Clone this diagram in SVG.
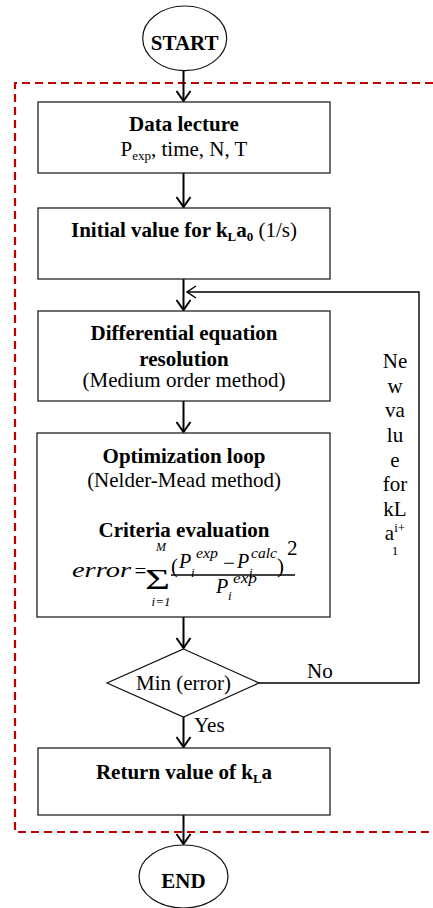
<svg xmlns="http://www.w3.org/2000/svg" width="433" height="908" viewBox="0 0 433 908">
<style>
.box{fill:#fff;stroke:#222;stroke-width:1.3}
.term{fill:#fff;stroke:#111;stroke-width:1.2}
.b{font-family:"Liberation Serif","Times New Roman",serif;font-weight:bold;font-size:21px;fill:#000}
.r{font-family:"Liberation Serif","Times New Roman",serif;font-size:21px;fill:#000}
.m{font-family:"Liberation Serif","Times New Roman",serif;font-style:italic;fill:#000}
.c{stroke:#000;stroke-width:2;fill:none}
.ct{stroke:#000;stroke-width:1.4;fill:none}
.frame{stroke:#C00000;stroke-width:2.2;stroke-dasharray:8 5;fill:none}
</style>
<defs>
<marker id="arr" markerUnits="userSpaceOnUse" viewBox="0 0 12 16" markerWidth="12" markerHeight="16" refX="11" refY="8" orient="auto">
<path d="M1,1 L11,8 L1,15" fill="none" stroke="#000" stroke-width="2"/>
</marker>
<marker id="arrt" markerUnits="userSpaceOnUse" viewBox="0 0 12 14" markerWidth="12" markerHeight="14" refX="11" refY="7" orient="auto">
<path d="M2,1 L11,7 L2,13" fill="none" stroke="#000" stroke-width="1.5"/>
</marker>
</defs>
<rect width="433" height="908" fill="#fff"/>
<path class="frame" d="M433 83 H15 V832 H433"/>
<g id="connectors">
<path class="c" d="M183.5 70.5 V101" marker-end="url(#arr)"/>
<path class="c" d="M183.5 173 V207" marker-end="url(#arr)"/>
<path class="c" d="M183.5 279 V310" marker-end="url(#arr)"/>
<path class="c" d="M183.5 401 V432" marker-end="url(#arr)"/>
<path class="c" d="M183.5 617 V648" marker-end="url(#arr)"/>
<path class="c" d="M183.5 717 V747" marker-end="url(#arr)"/>
<path class="c" d="M183.5 815 V844" marker-end="url(#arr)"/>
<path class="ct" d="M259 683 H419 V292 H187" marker-end="url(#arrt)"/>
<text class="r" x="307" y="678">No</text>
<text class="r" x="194" y="732">Yes</text>
<g class="r" text-anchor="middle">
<text x="395" y="368">Ne</text>
<text x="395" y="393">w</text>
<text x="395" y="417">va</text>
<text x="395" y="442">lu</text>
<text x="395" y="467">e</text>
<text x="395" y="491">for</text>
<text x="395" y="516">kL</text>
<text x="395" y="540">a<tspan font-size="13" dy="-8">i+</tspan></text>
<text x="395" y="555" font-size="13">1</text>
</g>
</g>
<g id="start">
<ellipse class="term" cx="184.7" cy="38.3" rx="42" ry="32.3"/>
<text class="b" x="184.7" y="50" text-anchor="middle">START</text>
</g>
<g id="data">
<rect class="box" x="38" y="102" width="292" height="71"/>
<text class="b" x="184" y="131" text-anchor="middle">Data lecture</text>
<text class="r" x="184" y="156" text-anchor="middle">P<tspan font-size="13" dy="4">exp</tspan><tspan dy="-4">, time, N, T</tspan></text>
</g>
<g id="initial">
<rect class="box" x="38" y="208" width="292" height="71"/>
<text class="b" x="184" y="237" text-anchor="middle">Initial value for k<tspan font-size="13" dy="4">L</tspan><tspan dy="-4">a</tspan><tspan font-size="13" dy="4">0</tspan><tspan class="r" font-weight="normal" dy="-4"> (1/s)</tspan></text>
</g>
<g id="diffeq">
<rect class="box" x="38" y="311" width="292" height="90"/>
<text class="b" x="184" y="340" text-anchor="middle">Differential equation</text>
<text class="b" x="184" y="366" text-anchor="middle">resolution</text>
<text class="r" x="184" y="387" text-anchor="middle">(Medium order method)</text>
</g>
<g id="optim">
<rect class="box" x="37" y="433" width="293" height="184"/>
<text class="b" x="184" y="463" text-anchor="middle">Optimization loop</text>
<text class="r" x="184" y="487" text-anchor="middle">(Nelder-Mead method)</text>
<text class="b" x="184" y="537" text-anchor="middle">Criteria evaluation</text>
<text class="m" x="72" y="577" font-size="21" textLength="59" lengthAdjust="spacingAndGlyphs">error</text>
<text class="r" x="134.5" y="578" font-size="20">=</text>
<text class="r" transform="translate(145,589) scale(1,1.45)" x="0" y="0" font-size="36" textLength="25" lengthAdjust="spacingAndGlyphs">Σ</text>
<text class="m" x="161" y="551" font-size="12" text-anchor="middle">M</text>
<text class="m" x="161" y="606" font-size="13" text-anchor="middle">i=1</text>
<text class="r" x="171" y="573" font-size="26">(</text>
<text class="m" x="179" y="568" font-size="20">P</text>
<text class="m" x="191" y="577" font-size="13">i</text>
<text class="m" x="196" y="558" font-size="14" textLength="22" lengthAdjust="spacingAndGlyphs">exp</text>
<text class="r" x="223" y="570" font-size="20">−</text>
<text class="m" x="237" y="568" font-size="20">P</text>
<text class="m" x="249" y="577" font-size="13">i</text>
<text class="m" x="251" y="558" font-size="14" textLength="26" lengthAdjust="spacingAndGlyphs">calc</text>
<text class="r" x="277" y="573" font-size="26">)</text>
<text class="r" x="287" y="555" font-size="14">2</text>
<line x1="171" y1="575" x2="295" y2="575" stroke="#000" stroke-width="1.5"/>
<text class="m" x="216" y="593" font-size="20">P</text>
<text class="m" x="228" y="600" font-size="13">i</text>
<text class="m" x="233" y="583" font-size="14" textLength="24" lengthAdjust="spacingAndGlyphs">exp</text>
</g>
<g id="decision">
<polygon points="183.5,649 259,683 183.5,717 107,683" fill="#fff" stroke="#111" stroke-width="1.2"/>
<text class="r" x="183.5" y="690" text-anchor="middle">Min (error)</text>
</g>
<g id="return">
<rect class="box" x="38" y="748" width="292" height="67"/>
<text class="b" x="184" y="779" text-anchor="middle">Return value of k<tspan font-size="13" dy="4">L</tspan><tspan dy="-4">a</tspan></text>
</g>
<g id="end">
<ellipse class="term" cx="183.5" cy="876.5" rx="44.5" ry="31.5"/>
<text class="b" x="183.5" y="888" text-anchor="middle">END</text>
</g>
</svg>
